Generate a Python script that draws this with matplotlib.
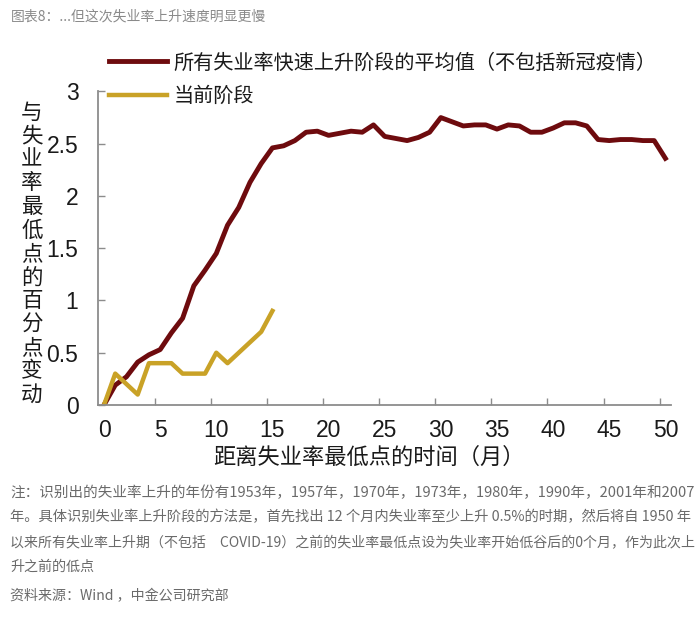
import numpy as np
import matplotlib
matplotlib.use("Agg")
import matplotlib.pyplot as plt

# --- DATA ---
months = list(range(0, 51))
avg_rise = [0.00, 0.19, 0.27, 0.41, 0.48, 0.53, 0.69, 0.83, 1.14, 1.29,
            1.45, 1.72, 1.89, 2.13, 2.31, 2.46, 2.48, 2.53, 2.61, 2.62,
            2.58, 2.60, 2.62, 2.61, 2.68, 2.57, 2.55, 2.53, 2.56, 2.61,
            2.75, 2.71, 2.67, 2.68, 2.68, 2.64, 2.68, 2.67, 2.61, 2.61,
            2.65, 2.70, 2.70, 2.67, 2.54, 2.53, 2.54, 2.54, 2.53, 2.53,
            2.36]
current_months = list(range(0, 16))
current_rise = [0.0, 0.3, 0.2, 0.1, 0.4, 0.4, 0.4, 0.3, 0.3, 0.3,
                0.5, 0.4, 0.5, 0.6, 0.7, 0.9]
xtick_vals = list(range(0, 51, 5))
ytick_vals = [0, 0.5, 1, 1.5, 2, 2.5, 3]
ytick_labels = ["0", "0.5", "1", "1.5", "2", "2.5", "3"]

label_avg = "所有失业率快速上升阶段的平均值（不包括新冠疫情）"
label_cur = "当前阶段"
title = "图表8：...但这次失业率上升速度明显更慢"
ylabel = "与失业率最低点的百分点变动"
xlabel = "距离失业率最低点的时间（月）"
notes = [
    "注：识别出的失业率上升的年份有1953年，1957年，1970年，1973年，1980年，1990年，2001年和2007",
    "年。具体识别失业率上升阶段的方法是，首先找出 12 个月内失业率至少上升 0.5%的时期，然后将自 1950 年",
    "以来所有失业率上升期（不包括　COVID-19）之前的失业率最低点设为失业率开始低谷后的0个月，作为此次上",
    "升之前的低点",
]
source = "资料来源：Wind ，中金公司研究部"

# --- STYLE ---
cjk = ["Noto Sans CJK SC", "DejaVu Sans"]
plt.rcParams["font.family"] = cjk
red = "#6E0B0E"
gold = "#C9A227"
axis_grey = "#8C8C8C"
W, H = 700, 618

fig = plt.figure(figsize=(7.0, 6.18), dpi=100)
ax = fig.add_axes([98.4 / W, 0.3447, 572.6 / W, 0.5073])

ax.plot(months, avg_rise, color=red, lw=3.5, solid_joinstyle="round",
        label=label_avg)
ax.plot(current_months, current_rise, color=gold, lw=3.2,
        solid_joinstyle="round", label=label_cur)

ax.set_xlim(-0.5, 50.5)
ax.set_ylim(0, 3)

for side in ["top", "right"]:
    ax.spines[side].set_visible(False)
for side in ["left", "bottom"]:
    ax.spines[side].set_color(axis_grey)
    ax.spines[side].set_linewidth(1.3)

ax.set_yticks(ytick_vals)
ax.set_yticklabels(ytick_labels, family="Liberation Sans", fontsize=16.5,
                   color="#1a1a1a")
ax.tick_params(axis="y", direction="in", length=5, width=1,
               color=axis_grey, pad=14.4)

ax.set_xticks(xtick_vals)
ax.set_xticklabels([str(v) for v in xtick_vals], family="Liberation Sans",
                   fontsize=16.5, color="#1a1a1a")
ax.tick_params(axis="x", which="major", length=0, pad=10)
ax.set_xticks([v - 0.5 for v in xtick_vals[1:]], minor=True)
ax.tick_params(axis="x", which="minor", direction="in", length=5, width=1,
               color=axis_grey)

# legend above plot
fig.legend(loc="upper left", bbox_to_anchor=(109 / W, 1 - 52.5 / H),
           frameon=False, fontsize=14.5, handlelength=2.9,
           handletextpad=0.3, labelspacing=0.6, borderpad=0,
           borderaxespad=0, labelcolor="#1a1a1a")

# vertical stacked y label
fig.text(32 / W, 1 - 254 / H, "\n".join(ylabel), ha="center",
         va="center", fontsize=15.5, linespacing=1.09, color="#1a1a1a")

fig.text(369 / W, 1 - 457 / H, xlabel, ha="center", va="center",
         fontsize=16, color="#1a1a1a")

# title and notes
fig.text(11 / W, 1 - 17 / H, title, ha="left", va="center",
         fontsize=10, color="#8a8a8a")

renderer = fig.canvas.get_renderer()
note_y = [493, 517, 543, 567]
for k, line in enumerate(notes):
    t = fig.text(10 / W, 1 - note_y[k] / H, line, ha="left",
                 va="center", fontsize=10.1, color="#6a6a6a")
    if k < 3:
        # the first three lines run across the full width
        w = t.get_window_extent(renderer).width
        t.set_fontsize(10.1 * 682 / w)
fig.text(10 / W, 1 - 596 / H, source, ha="left", va="center",
         fontsize=10.1, color="#6a6a6a")

fig.savefig("out.png", dpi=100)
plt.close(fig)
